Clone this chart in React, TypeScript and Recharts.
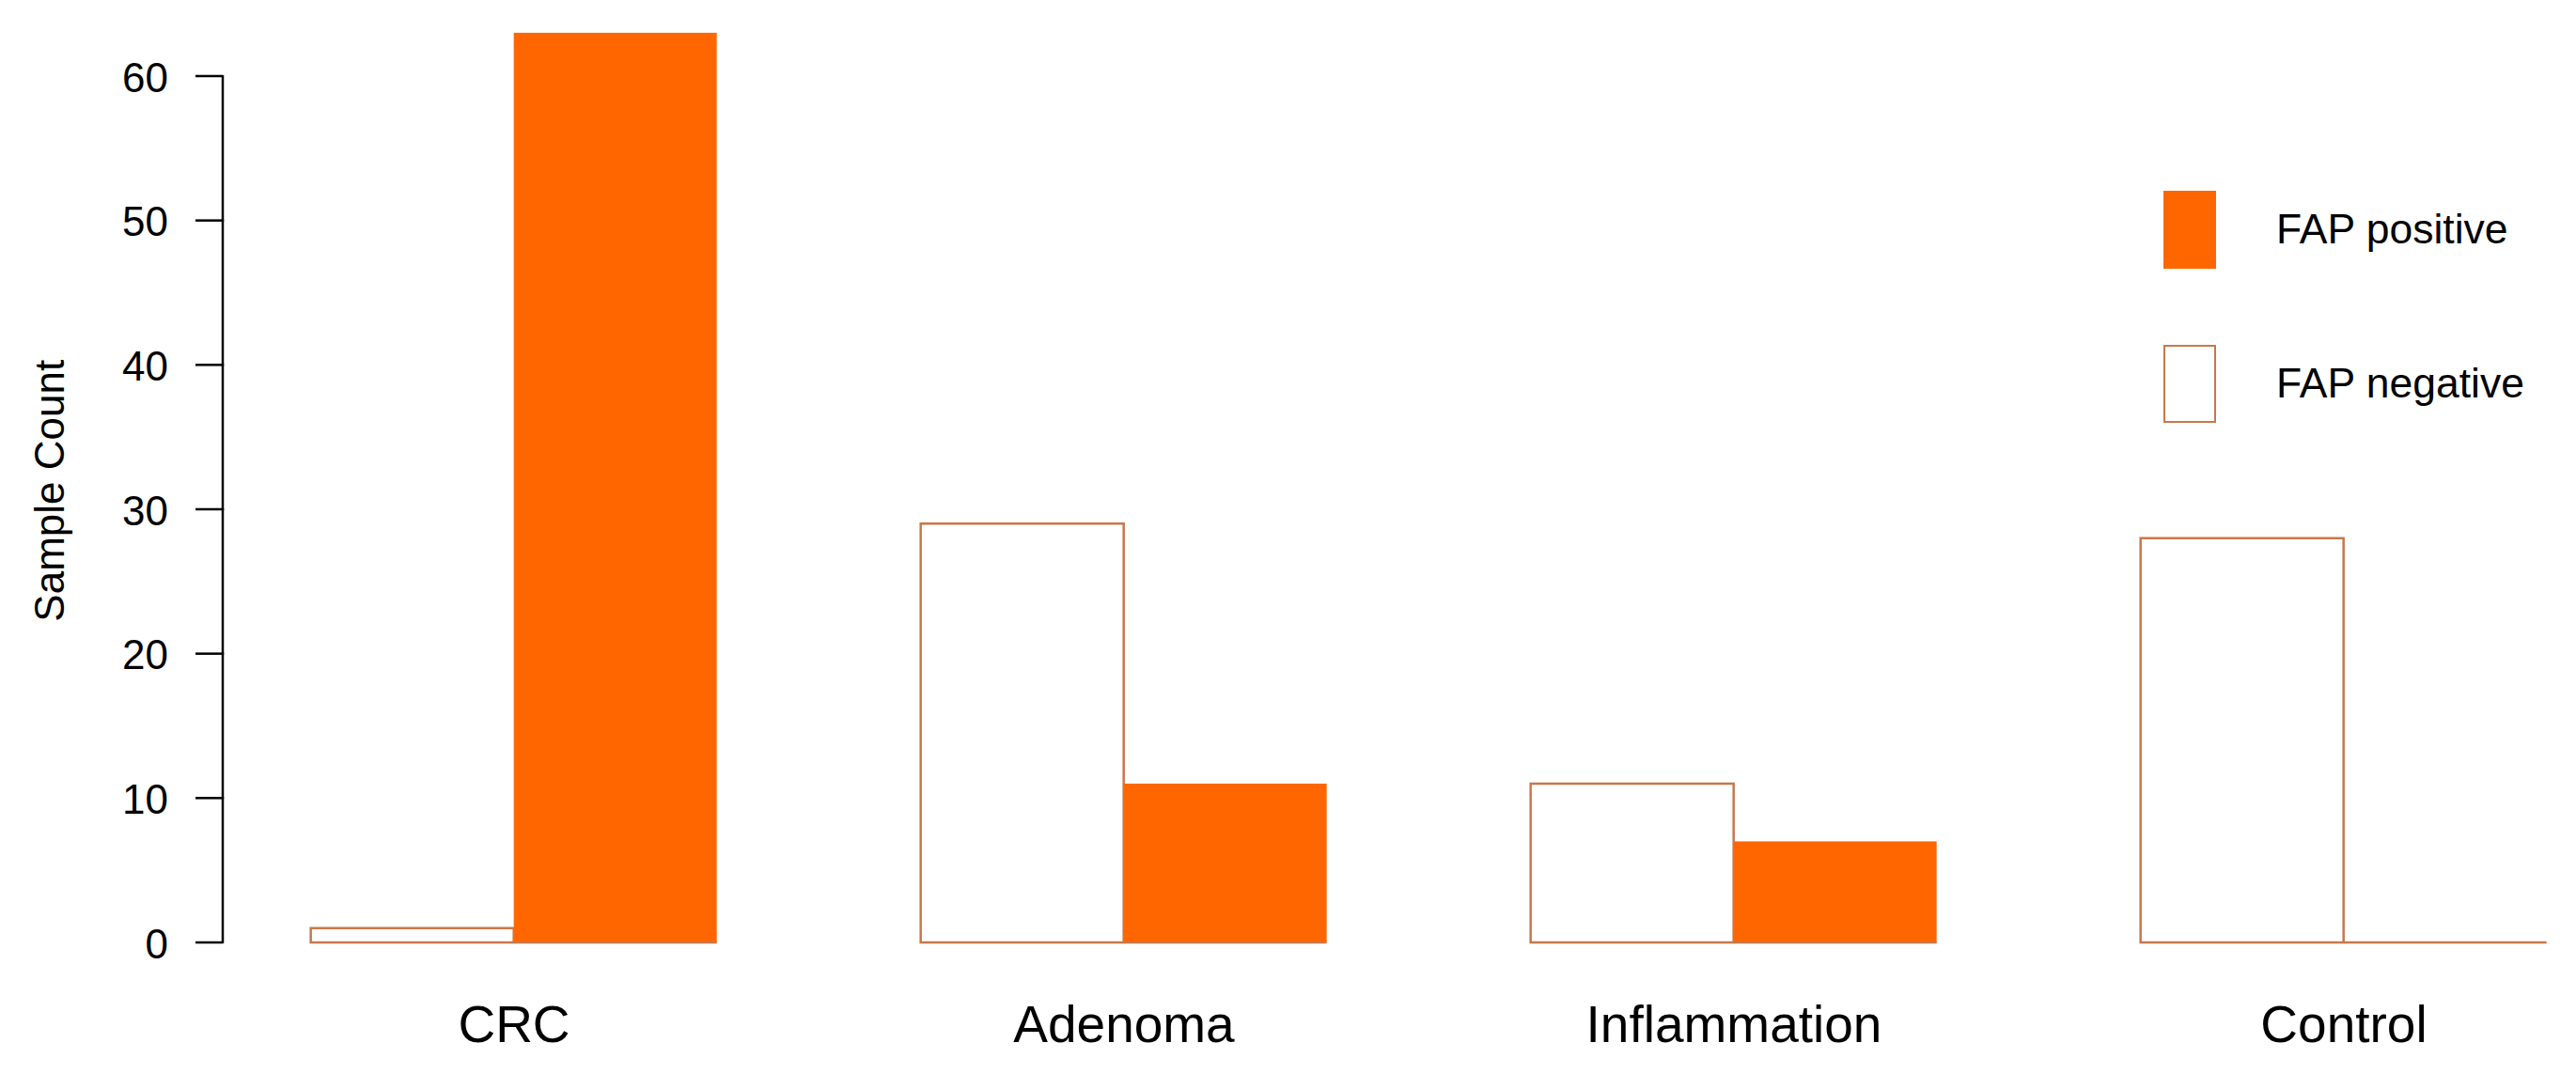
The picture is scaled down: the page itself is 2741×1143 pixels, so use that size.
import { BarChart, Bar, XAxis, YAxis, Legend } from "recharts";

const categories = ["CRC", "Adenoma", "Inflammation", "Control"];
const fapNegative = [1, 29, 11, 28];
const fapPositive = [63, 11, 7, 0];
const yTicks = [0, 10, 20, 30, 40, 50, 60];

const ORANGE = "#FF6600";
const BORDER = "#C8784A";
const FONT = "'Liberation Sans', Arial, sans-serif";

const W = 2725;
const H = 1130;
const TOP = 11.5;
const X_AXIS_H = 135;
const Y_MAX = 64;
const PLOT_H = H - TOP - X_AXIS_H;
const STEP = (10 * PLOT_H) / Y_MAX;

const data = categories.map((name, i) => ({
  name,
  negative: fapNegative[i],
  positive: fapPositive[i],
}));

const YTick = (props: any) => {
  const { x, y, payload } = props;
  const v = payload.value;
  return (
    <g>
      <line x1={x - 29} x2={x} y1={y} y2={y} stroke="#000" strokeWidth={2.5} />
      {v < 60 && <line x1={x} x2={x} y1={y + 1} y2={y - STEP - 1} stroke="#000" strokeWidth={2.5} />}
      <text x={x - 58} y={y} dy="0.38em" textAnchor="end" fontSize={44} fontFamily={FONT} fill="#000">
        {v}
      </text>
    </g>
  );
};

const XTick = (props: any) => {
  const { x, y, payload } = props;
  return (
    <text x={x} y={y + 106} textAnchor="middle" fontSize={55} fontFamily={FONT} fill="#000">
      {payload.value}
    </text>
  );
};

const NegativeShape = (p: any) => {
  const { x, y, width, height } = p;
  return (
    <path
      d={`M${x},${y} h${width} v${height} h${-width} Z`}
      fill="#fff"
      stroke={BORDER}
      strokeWidth={2.5}
    />
  );
};

const PositiveShape = (p: any) => {
  const { x, y, width, height } = p;
  return (
    <g>
      {height > 0 && <rect x={x} y={y} width={width} height={height} fill={ORANGE} />}
      <line x1={x} x2={x + width} y1={y + height} y2={y + height} stroke={BORDER} strokeWidth={2.5} />
    </g>
  );
};

const legendStyle: Record<string, { fill: string; border: string }> = {
  positive: { fill: ORANGE, border: "none" },
  negative: { fill: "#fff", border: `2.5px solid ${BORDER}` },
};

const LegendContent = (props: any) => {
  const items = [...(props.payload || [])].reverse();
  return (
    <div style={{ display: "flex", flexDirection: "column", gap: 81 }}>
      {items.map((item: any) => {
        const s = legendStyle[item.dataKey];
        return (
          <div key={item.dataKey} style={{ display: "flex", alignItems: "center", height: 83 }}>
            <div
              style={{
                width: 56,
                height: 83,
                boxSizing: "border-box",
                background: s.fill,
                border: s.border,
              }}
            />
            <span style={{ marginLeft: 64, fontSize: 44.5, fontFamily: FONT, color: "#000", lineHeight: 1 }}>
              {item.value}
            </span>
          </div>
        );
      })}
    </div>
  );
};

const YLabel = (props: any) => {
  const vb = props.viewBox || {};
  const cx = 44;
  const cy = (vb.y ?? TOP) + (vb.height ?? PLOT_H) / 2 + 11;
  return (
    <text
      x={cx}
      y={cy}
      dy="0.36em"
      transform={`rotate(-90 ${cx} ${cy})`}
      textAnchor="middle"
      fontSize={44}
      fontFamily={FONT}
      fill="#000"
    >
      Sample Count
    </text>
  );
};

export default function App() {
  return (
    <div style={{ background: "#fff", width: W, height: H }}>
      <BarChart
        width={W}
        height={H}
        data={data}
        margin={{ top: TOP, right: 0, bottom: 0, left: 0 }}
        barCategoryGap="16.667%"
        barGap={0}
      >
        <XAxis
          dataKey="name"
          height={X_AXIS_H}
          axisLine={false}
          tickLine={false}
          tickSize={0}
          tickMargin={0}
          padding={{ left: -14.5, right: -85.5 }}
          tick={<XTick />}
          interval={0}
        />
        <YAxis
          width={229}
          domain={[0, Y_MAX]}
          ticks={yTicks}
          axisLine={false}
          tickLine={false}
          tickSize={0}
          tickMargin={0}
          tick={<YTick />}
          interval={0}
          label={<YLabel />}
        />
        <Legend
          layout="horizontal"
          verticalAlign="middle"
          align="center"
          content={<LegendContent />}
          wrapperStyle={{ position: "absolute", left: 2294, top: 195, width: 430, height: 250 }}
        />
        <Bar dataKey="negative" name="FAP negative" fill="#fff" shape={<NegativeShape />} isAnimationActive={false} />
        <Bar dataKey="positive" name="FAP positive" fill={ORANGE} shape={<PositiveShape />} isAnimationActive={false} />
      </BarChart>
    </div>
  );
}
